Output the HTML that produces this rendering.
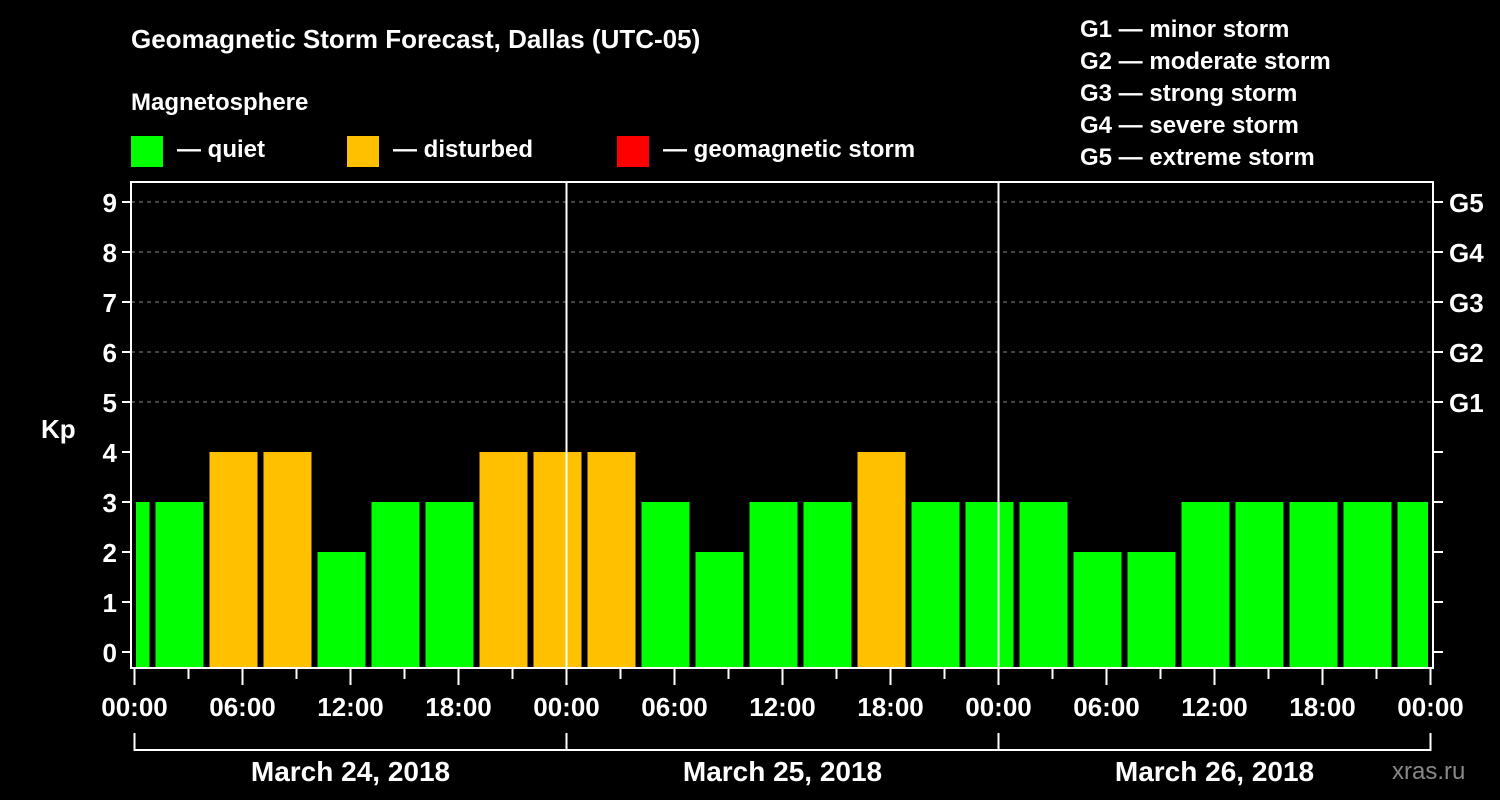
<!DOCTYPE html>
<html><head><meta charset="utf-8"><style>
html,body{margin:0;padding:0;background:#000;}
svg{display:block;font-family:"Liberation Sans",Arial,sans-serif;font-weight:bold;}
</style></head><body>
<svg id="chart" width="1500" height="800" viewBox="0 0 1500 800" xmlns="http://www.w3.org/2000/svg">
<rect width="1500" height="800" fill="#000"/>
<text x="131" y="48" fill="#fff" font-size="26">Geomagnetic Storm Forecast, Dallas (UTC-05)</text>
<text x="131" y="110" fill="#fff" font-size="24">Magnetosphere</text>
<g><rect x="131" y="136" width="32" height="31" fill="#00ff00"/><text x="177" y="157" fill="#fff" font-size="24">— quiet</text></g>
<g><rect x="347" y="136" width="32" height="31" fill="#ffc000"/><text x="393" y="157" fill="#fff" font-size="24">— disturbed</text></g>
<g><rect x="617" y="136" width="32" height="31" fill="#ff0000"/><text x="663" y="157" fill="#fff" font-size="24">— geomagnetic storm</text></g>
<g fill="#fff" font-size="24">
<text x="1080" y="37">G1 — minor storm</text>
<text x="1080" y="69">G2 — moderate storm</text>
<text x="1080" y="101">G3 — strong storm</text>
<text x="1080" y="133">G4 — severe storm</text>
<text x="1080" y="165">G5 — extreme storm</text>
</g>
<text x="41" y="438" fill="#fff" font-size="26">Kp</text>
<g id="grid"></g>
<g id="bars"></g>
<g id="axes"></g>
<text x="1392" y="779" fill="#888" font-size="24" font-weight="normal">xras.ru</text>
</svg>
<script>
const binStartHours = [-2,1,4,7,10,13,16,19,22,25,28,31,34,37,40,43,46,49,52,55,58,61,64,67,70];
const kpValues = [3,3,4,4,2,3,3,4,4,4,3,2,3,3,4,3,3,3,2,2,3,3,3,3,3];
const yTicks = [0,1,2,3,4,5,6,7,8,9];
const gLabels = ["G1","G2","G3","G4","G5"];
const xTickLabels = ["00:00","06:00","12:00","18:00","00:00","06:00","12:00","18:00","00:00","06:00","12:00","18:00","00:00"];
const dayLabels = ["March 24, 2018","March 25, 2018","March 26, 2018"];

const NS="http://www.w3.org/2000/svg";
const L=131,R=1433,T=182,B=668,X0=134.5,HPX=18;
const x=h=>X0+h*HPX;
const y=v=>652-50*v;
function mk(tag,attrs,parent){const e=document.createElementNS(NS,tag);for(const k in attrs)e.setAttribute(k,attrs[k]);parent.appendChild(e);return e;}
const grid=document.getElementById('grid'),bars=document.getElementById('bars'),axes=document.getElementById('axes');

for(let i=0;i<gLabels.length;i++){
  const ln=mk('line',{x1:L,x2:R,y1:y(5+i),y2:y(5+i),stroke:'#888','stroke-dasharray':'4,4','stroke-width':1},grid);
  
  
}
for(let i=0;i<binStartHours.length;i++){
  const v=kpValues[i];
  let x1=x(binStartHours[i])+3, x2=x(binStartHours[i]+3)-3;
  x1=Math.max(x1,L+5); x2=Math.min(x2,R-5);
  const col=v>=5?'#ff0000':(v>=4?'#ffc000':'#00ff00');
  const r=mk('rect',{x:x1,y:y(v),width:x2-x1,height:B-y(v),fill:col},bars);
  
  
}
// day separators
for(let d=1;d<dayLabels.length;d++){
  const s=mk('line',{x1:x(24*d),x2:x(24*d),y1:T,y2:B,stroke:'#fff','stroke-width':2},axes);
  
  
}
const frame=mk('rect',{x:L,y:T,width:R-L,height:B-T,fill:'none',stroke:'#fff','stroke-width':2},axes);


for(const t of yTicks){
  mk('line',{x1:L-9,x2:L,y1:y(t),y2:y(t),stroke:'#fff','stroke-width':2},axes);
  mk('line',{x1:R,x2:R+10,y1:y(t),y2:y(t),stroke:'#fff','stroke-width':2},axes);
  const tx=mk('text',{x:L-14,y:y(t)+10,'text-anchor':'end',fill:'#fff','font-size':26},axes);
  tx.textContent=t;
  
  
}
gLabels.forEach((g,i)=>{
  const tx=mk('text',{x:1449,y:y(5+i)+10,fill:'#fff','font-size':26},axes);
  tx.textContent=g;
  
  
});
for(let h=0;h<=72;h+=3){
  const major=h%6===0;
  mk('line',{x1:x(h),x2:x(h),y1:B,y2:major?685:679,stroke:'#fff','stroke-width':2},axes);
}
xTickLabels.forEach((lab,i)=>{
  const tx=mk('text',{x:x(i*6),y:716,'text-anchor':'middle',fill:'#fff','font-size':26},axes);
  tx.textContent=lab;
  
  
});
mk('path',{d:`M${x(0)} 733 V750 H${x(72)} V733`,fill:'none',stroke:'#fff','stroke-width':2},axes);
for(let d=1;d<dayLabels.length;d++) mk('line',{x1:x(24*d),x2:x(24*d),y1:733,y2:750,stroke:'#fff','stroke-width':2},axes);
dayLabels.forEach((lab,i)=>{
  const tx=mk('text',{x:x(24*i+12),y:781,'text-anchor':'middle',fill:'#fff','font-size':28},axes);
  tx.textContent=lab;
  
  
});
</script>
</body></html>
